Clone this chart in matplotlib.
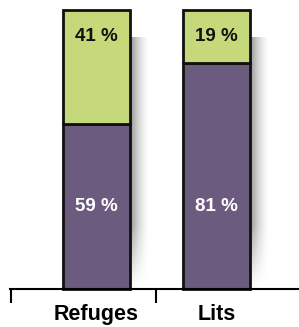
import numpy as np
import matplotlib.pyplot as plt

plt.rc('font', family='Liberation Sans', weight='bold')

categories = ['Refuges', 'Lits']
bottom_vals = [59, 81]   # purple part
top_vals = [41, 19]      # green part

purple = '#6b5b7e'
green = '#c5d97a'

fig = plt.figure(figsize=(2.99, 3.27), dpi=100)
ax = fig.add_axes([10/299, 38/327, 289/299, 279/327])

x = np.arange(len(categories))
w = 0.556

# soft shadow to the right of each bar
nx, ny = 40, 60
gx = np.linspace(0, 1, nx)
gy = np.linspace(0, 1, ny)
fade_x = (1 - gx) ** 1.6
fade_y = np.clip((1 - gy) / 0.3, 0, 1)[::-1]
fade_y = np.clip(gy / 0.25, 0, 1)
alpha = np.outer(fade_y, fade_x) * 0.42
shadow = np.zeros((ny, nx, 4))
shadow[..., 3] = alpha
for xi in x:
    ax.imshow(shadow, extent=(xi + w/2, xi + w/2 + 0.16, 0, 90),
              origin='lower', aspect='auto', interpolation='bilinear', zorder=1)

ax.bar(x, bottom_vals, w, color=purple, edgecolor='#111111', linewidth=2,
       zorder=2, clip_on=False)
ax.bar(x, top_vals, w, bottom=bottom_vals, color=green, edgecolor='#111111',
       linewidth=2, zorder=2, clip_on=False)

for xi, b, t in zip(x, bottom_vals, top_vals):
    ax.text(xi, 29.5, f'{b} %', ha='center', va='center', color='white',
            fontsize=13.5, zorder=3)
    ax.text(xi, 90.6, f'{t} %', ha='center', va='center', color='#111111',
            fontsize=13.5, zorder=3)

ax.set_xlim(-0.714, 1.685)
ax.set_ylim(0, 100)
for s in ['top', 'right', 'left']:
    ax.spines[s].set_visible(False)
ax.spines['bottom'].set_linewidth(1.5)
ax.spines['bottom'].set_zorder(4)
ax.set_yticks([])
ax.set_xticks(x)
ax.set_xticklabels(categories, fontsize=15.5)
ax.tick_params(axis='x', which='major', length=0, pad=11)
ax.set_xticks([-0.705, 0.5], minor=True)
ax.tick_params(axis='x', which='minor', length=10, width=1.5, direction='out')

plt.savefig('out.png', dpi=100)
